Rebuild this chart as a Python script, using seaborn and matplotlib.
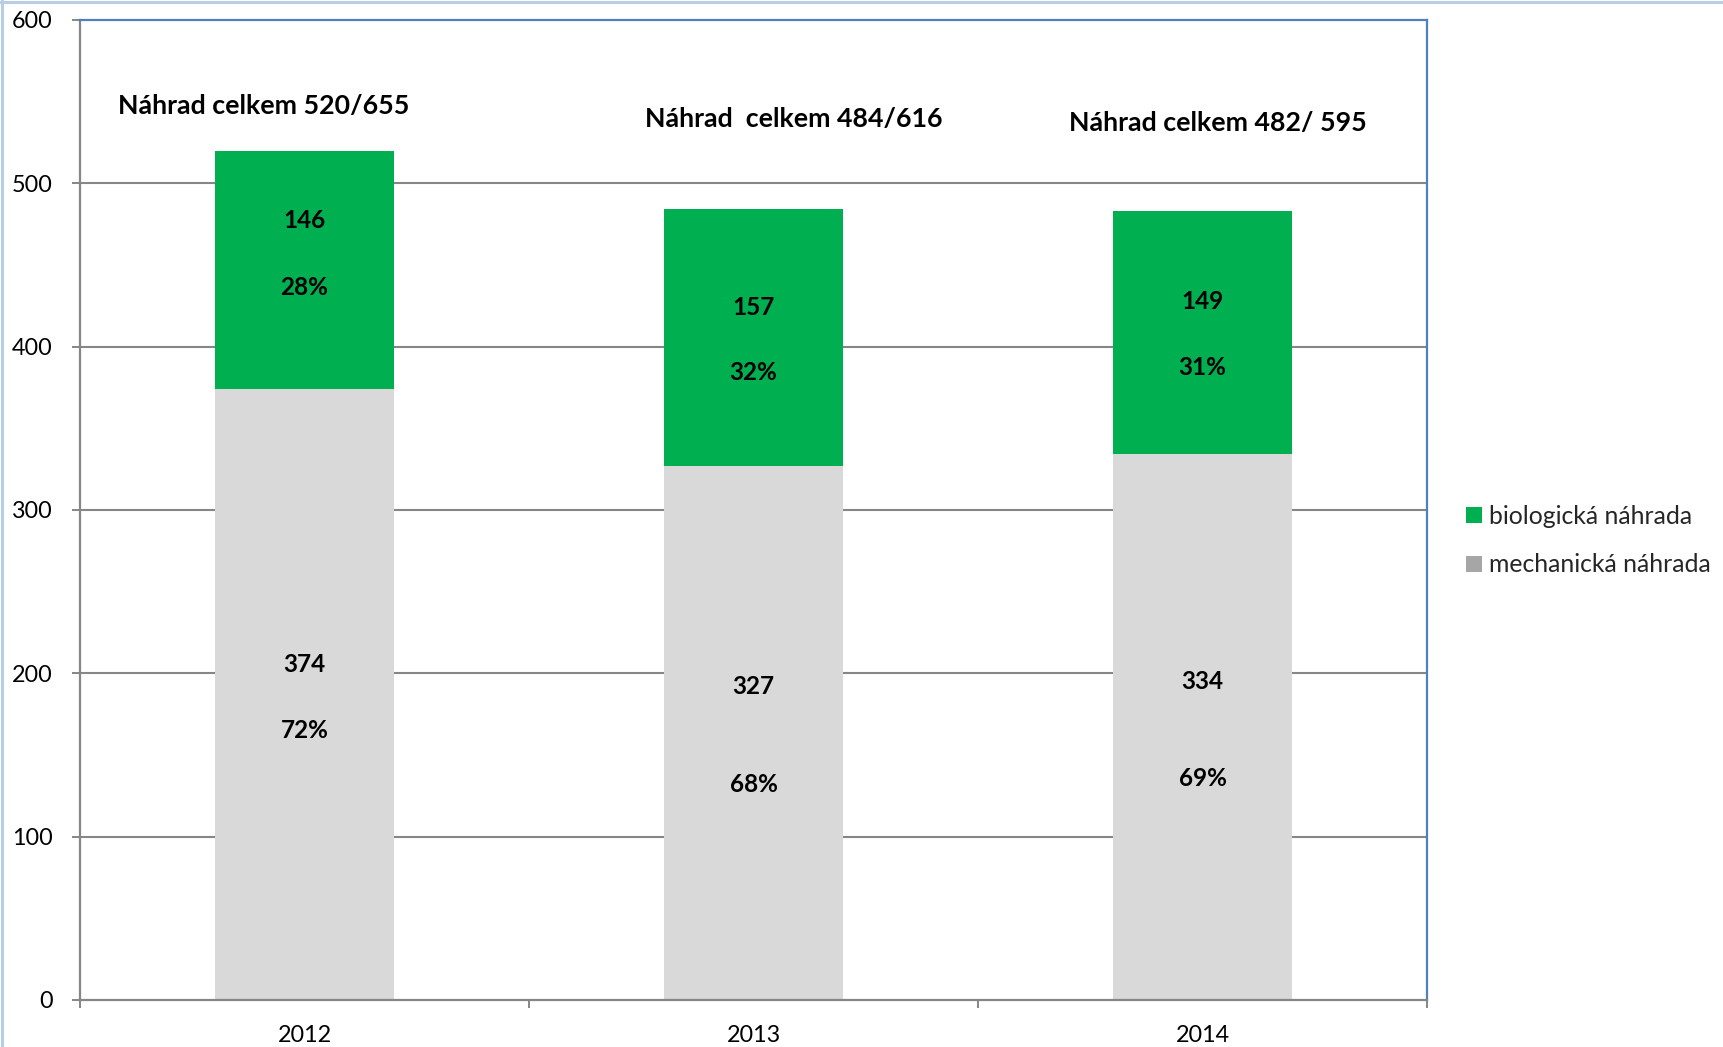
import matplotlib
matplotlib.use("Agg")
import matplotlib.pyplot as plt
from matplotlib.lines import Line2D
from matplotlib.patches import Patch
import pandas as pd
import seaborn as sns

# Data
years = ["2012", "2013", "2014"]
mechanical = [374, 327, 334]
biological = [146, 157, 149]
mechanical_pct = ["72%", "68%", "69%"]
biological_pct = ["28%", "32%", "31%"]
totals_text = ["Náhrad celkem 520/655", "Náhrad  celkem 484/616", "Náhrad celkem 482/ 595"]
series_names = ["biologická náhrada", "mechanická náhrada"]
y_ticks = [0, 100, 200, 300, 400, 500, 600]

# Label placement (data units)
bio_num_y = [477, 424, 427.6]
bio_pct_y = [436.4, 383.9, 387.2]
mech_num_y = [205.6, 192.1, 194.8]
mech_pct_y = [165.2, 132.2, 135.6]
title_x = [-0.092, 1.089, 2.034]
title_y = [547.6, 539.6, 536.9]

GREEN = "#00B050"
LIGHT_GRAY = "#D9D9D9"
LEGEND_GRAY = "#A6A6A6"
GRID = "#868686"
BLUE = "#4F81BD"

sns.set_style("white")
plt.rcParams["font.family"] = ["Lato", "DejaVu Sans"]

df = pd.DataFrame({
    "year": years,
    "mechanical": mechanical,
    "biological": biological,
})
df["total"] = df["mechanical"] + df["biological"]

fig = plt.figure(figsize=(17.23, 10.47), dpi=100)
ax = fig.add_axes([80 / 1723, 1 - 1000 / 1047, (1427 - 80) / 1723, 980 / 1047])

# stacked bars: full total in green, mechanical part overlaid in gray
sns.barplot(data=df, x="year", y="total", color=GREEN, saturation=1,
            width=0.4, linewidth=0, edgecolor="none", ax=ax, zorder=2)
sns.barplot(data=df, x="year", y="mechanical", color=LIGHT_GRAY, saturation=1,
            width=0.4, linewidth=0, edgecolor="none", ax=ax, zorder=2)

ax.set_xlim(-0.5, 2.5)
ax.set_ylim(0, 600)
ax.set_yticks(y_ticks)
ax.set_xlabel("")
ax.set_ylabel("")

# gridlines
for v in y_ticks[1:-1]:
    ax.axhline(v, color=GRID, lw=1.5, zorder=1)
ax.grid(False)

# spines
for side in ("left", "bottom"):
    ax.spines[side].set_color(GRID)
    ax.spines[side].set_linewidth(1.6)
for side in ("top", "right"):
    ax.spines[side].set_color(BLUE)
    ax.spines[side].set_linewidth(1.6)
    ax.spines[side].set_visible(True)
for s in ax.spines.values():
    s.set_zorder(3)

ax.tick_params(axis="y", which="major", length=6, width=1.4, color=GRID,
               direction="out", left=True, pad=13.5, labelsize=16.8,
               labelcolor="black")
ax.set_xticks([-0.5, 0.5, 1.5, 2.5], minor=True)
ax.tick_params(axis="x", which="minor", length=6, width=1.4, color=GRID,
               direction="out", bottom=True)
ax.tick_params(axis="x", which="major", length=0, pad=18, labelsize=16.8,
               labelcolor="black")

# value labels
lab_kw = dict(ha="center", va="center", fontsize=17.5, fontweight="bold",
              color="black", zorder=4)
for i in range(len(years)):
    ax.text(i, bio_num_y[i], str(biological[i]), **lab_kw)
    ax.text(i, bio_pct_y[i], biological_pct[i], **lab_kw)
    ax.text(i, mech_num_y[i], str(mechanical[i]), **lab_kw)
    ax.text(i, mech_pct_y[i], mechanical_pct[i], **lab_kw)
    ax.text(title_x[i], title_y[i], totals_text[i], ha="center", va="center",
            fontsize=19.3, fontweight="bold", color="black", zorder=4)

# legend
handles = [Patch(facecolor=GREEN, edgecolor="none"),
           Patch(facecolor=LEGEND_GRAY, edgecolor="none")]
fig.legend(handles, series_names, loc="center left",
           bbox_to_anchor=(1466 / 1723, 1 - 540.5 / 1047),
           frameon=False, fontsize=17.8, handlelength=0.65, handleheight=0.65,
           handletextpad=0.28, labelspacing=1.05, borderpad=0, borderaxespad=0)

# outer chart border (top and left edges)
fig.add_artist(Line2D([0, 1], [1 - 1.5 / 1047] * 2, transform=fig.transFigure,
                      color="#B9CDE5", lw=2.2))
fig.add_artist(Line2D([1.5 / 1723] * 2, [0, 1], transform=fig.transFigure,
                      color="#B9CDE5", lw=2.2))

fig.savefig("out.png", dpi=100, facecolor="white")
